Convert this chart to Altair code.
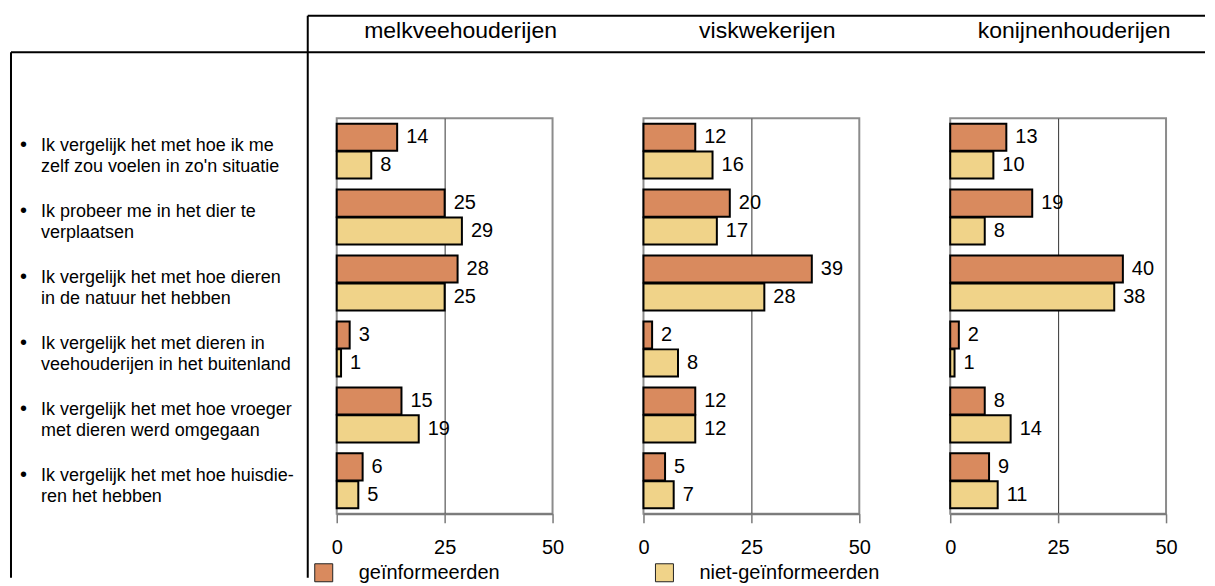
import altair as alt
import pandas as pd

# ---------------- data ----------------
panels = ["melkveehouderijen", "viskwekerijen", "konijnenhouderijen"]
categories = [
    "Ik vergelijk het met hoe ik me\nzelf zou voelen in zo'n situatie",
    "Ik probeer me in het dier te\nverplaatsen",
    "Ik vergelijk het met hoe dieren\nin de natuur het hebben",
    "Ik vergelijk het met dieren in\nveehouderijen in het buitenland",
    "Ik vergelijk het met hoe vroeger\nmet dieren werd omgegaan",
    "Ik vergelijk het met hoe huisdie-\nren het hebben",
]
groups = ["geïnformeerden", "niet-geïnformeerden"]

melk_gei = [14, 25, 28, 3, 15, 6]
melk_niet = [8, 29, 25, 1, 19, 5]
vis_gei = [12, 20, 39, 2, 12, 5]
vis_niet = [16, 17, 28, 8, 12, 7]
kon_gei = [13, 19, 40, 2, 8, 9]
kon_niet = [10, 8, 38, 1, 14, 11]

x_ticks = [0, 25, 50]
colors = ["#D98A5E", "#F0D389"]

series = {
    "melkveehouderijen": (melk_gei, melk_niet),
    "viskwekerijen": (vis_gei, vis_niet),
    "konijnenhouderijen": (kon_gei, kon_niet),
}

rows = []
for p in panels:
    for g, vals in zip(groups, series[p]):
        for c, v in zip(categories, vals):
            rows.append({"panel": p, "cat": c, "groep": g, "value": v})
df = pd.DataFrame(rows)
cat_df = pd.DataFrame({"cat": categories})
one = pd.DataFrame({"k": [0]})

FONT = "Liberation Sans"

legend = alt.Legend(
    title=None, orient="none", legendX=-23, legendY=445, direction="horizontal",
    symbolType="square", symbolSize=324, symbolStrokeColor="#222",
    symbolStrokeWidth=1, symbolOpacity=1, labelFontSize=20, labelFont=FONT,
    labelColor="black", labelOffset=25, columnPadding=153, labelLimit=400,
    padding=0,
)


def hline(y, x1, x2):
    return alt.Chart(one).mark_rule(color="black", strokeWidth=2).encode(
        x=alt.value(x1), x2=alt.value(x2), y=alt.value(y))


def vline(x, y1, y2):
    return alt.Chart(one).mark_rule(color="black", strokeWidth=2).encode(
        x=alt.value(x), y=alt.value(y1), y2=alt.value(y2))


def panel(name, first):
    d = df[df.panel == name]
    y = alt.Y("cat:N", sort=categories, axis=None,
              scale=alt.Scale(domain=categories, paddingInner=1 / 6, paddingOuter=1 / 12))
    yoff = alt.YOffset("groep:N", sort=groups,
                       scale=alt.Scale(domain=groups, paddingInner=0.03))
    x = alt.X("value:Q", scale=alt.Scale(domain=[0, 50], nice=False),
              axis=alt.Axis(values=x_ticks, title=None, grid=True, gridColor="#333",
                            gridWidth=1,
                            gridOpacity={"condition": {"test": "datum.value == 25", "value": 1},
                                         "value": 0},
                            domainColor="#7a7a7a", domainWidth=2,
                            tickColor="#7a7a7a", tickWidth=1.5, tickSize=9,
                            labelFontSize=20, labelFont=FONT, labelColor="black",
                            labelPadding=15, labelFlush=False))
    bars = alt.Chart(d).mark_bar(stroke="black", strokeWidth=2).encode(
        x=x, y=y, yOffset=yoff,
        color=alt.Color("groep:N", scale=alt.Scale(domain=groups, range=colors), legend=legend),
    )
    vals = alt.Chart(d).mark_text(align="left", baseline="middle", dx=9, fontSize=20,
                                  font=FONT, color="black").encode(
        x="value:Q", y=y, yOffset=yoff, text="value:Q")
    header = alt.Chart(pd.DataFrame({"t": [name]})).mark_text(
        fontSize=23, font=FONT, baseline="alphabetic", align="center", color="black").encode(
        x=alt.value(124), y=alt.value(-80), text="t:N")
    layers = [bars, vals, header]
    if first:
        bullets = alt.Chart(cat_df).mark_text(
            text="•", fontSize=20, font=FONT, align="center", baseline="alphabetic",
            color="black").encode(x=alt.value(-313.5), y=alt.Y("cat:N", sort=categories))
        catlabels = alt.Chart(cat_df).mark_text(
            fontSize=18, font=FONT, align="left", baseline="alphabetic", lineBreak="\n",
            lineHeight=21, color="black").encode(
            x=alt.value(-296), y=alt.Y("cat:N", sort=categories), text="cat:N")
        layers += [
            bullets, catlabels,
            hline(-102.5, -29, 869),
            hline(-66, -326, 869),
            vline(-29, -102.5, 460),
            vline(-326, -66, 460),
        ]
    return alt.layer(*layers).properties(
        width=216, height=396,
        view=alt.ViewBackground(stroke="#8c8c8c", strokeWidth=2))


chart = alt.hconcat(
    *[panel(p, i == 0) for i, p in enumerate(panels)], spacing=91, bounds="flush"
).resolve_scale(color="shared").properties(
    padding={"left": 1, "top": 5, "right": 0, "bottom": 0}
).configure_view(stroke="#8c8c8c", strokeWidth=2).configure(font=FONT)

chart.save("out.html", embed_options={"renderer": "svg", "actions": False})
